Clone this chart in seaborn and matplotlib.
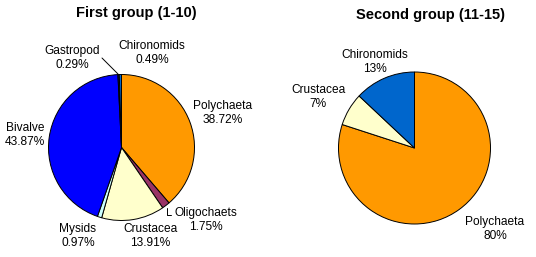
"""Benthic group composition pies, two station groups side by side."""

import matplotlib
matplotlib.use("Agg")
import matplotlib.pyplot as plt
import seaborn as sns

# Data
first_taxa = ["Polychaeta", "Oligochaets", "Crustacea", "Mysids",
              "Bivalve", "Gastropod", "Chironomids"]
first_share = [38.72, 1.75, 13.91, 0.97, 43.87, 0.29, 0.49]
first_colors = ["#FF9900", "#993366", "#FFFFCC", "#CCFFFF",
                "#0000FF", "#1A1A5E", "#0066CC"]

second_taxa = ["Polychaeta", "Crustacea", "Chironomids"]
second_share = [80, 7, 13]
second_colors = ["#FF9900", "#FFFFCC", "#0066CC"]

sns.set_style("white")
plt.rcParams["font.family"] = ["Liberation Sans", "DejaVu Sans"]

W, H = 536, 257
fig = plt.figure(figsize=(W / 100, H / 100), dpi=100)
ax = fig.add_axes([0, 0, 1, 1])


def py(y):
    # pixel row (from top) -> data y
    return H - y


wedge_style = dict(edgecolor="black", linewidth=0.7)
ax.pie(first_share, colors=first_colors, startangle=90, counterclock=False,
       center=(121.5, py(147.5)), radius=73, wedgeprops=wedge_style,
       frame=True)
ax.pie(second_share, colors=second_colors, startangle=90, counterclock=False,
       center=(414.5, py(148)), radius=76, wedgeprops=wedge_style,
       frame=True)
ax.set_xlim(0, W)
ax.set_ylim(0, H)
ax.set_aspect("equal")
ax.axis("off")

fmt1 = [f"{v:.2f}%" for v in first_share]
fmt2 = [f"{v}%" for v in second_share]

label_pos1 = {
    "Polychaeta": (223, 113), "Oligochaets": (206, 220),
    "Crustacea": (150, 236), "Mysids": (78, 236),
    "Bivalve": (25, 135), "Gastropod": (72, 58), "Chironomids": (152, 53),
}
label_pos2 = {
    "Polychaeta": (495, 229), "Crustacea": (318, 97), "Chironomids": (375, 62),
}

txt = dict(fontsize=8.6, ha="center", va="center", linespacing=1.2,
           color="black")
for name, pct in zip(first_taxa, fmt1):
    x, y = label_pos1[name]
    ax.text(x, py(y), f"{name}\n{pct}", **txt)
for name, pct in zip(second_taxa, fmt2):
    x, y = label_pos2[name]
    ax.text(x, py(y), f"{name}\n{pct}", **txt)

# leader lines for thin slices
ax.plot([102, 118], [py(58), py(74)], color="black", lw=0.7)
ax.plot([166.5, 166.5, 171], [py(208), py(215), py(215)], color="black", lw=0.7)

ax.text(136, py(13), "First group (1-10)", fontsize=10.5, fontweight="bold",
        ha="center", va="center", color="black")
ax.text(431, py(15), "Second group (11-15)", fontsize=10.5, fontweight="bold",
        ha="center", va="center", color="black")

fig.savefig("out.png", dpi=100, facecolor="white")
